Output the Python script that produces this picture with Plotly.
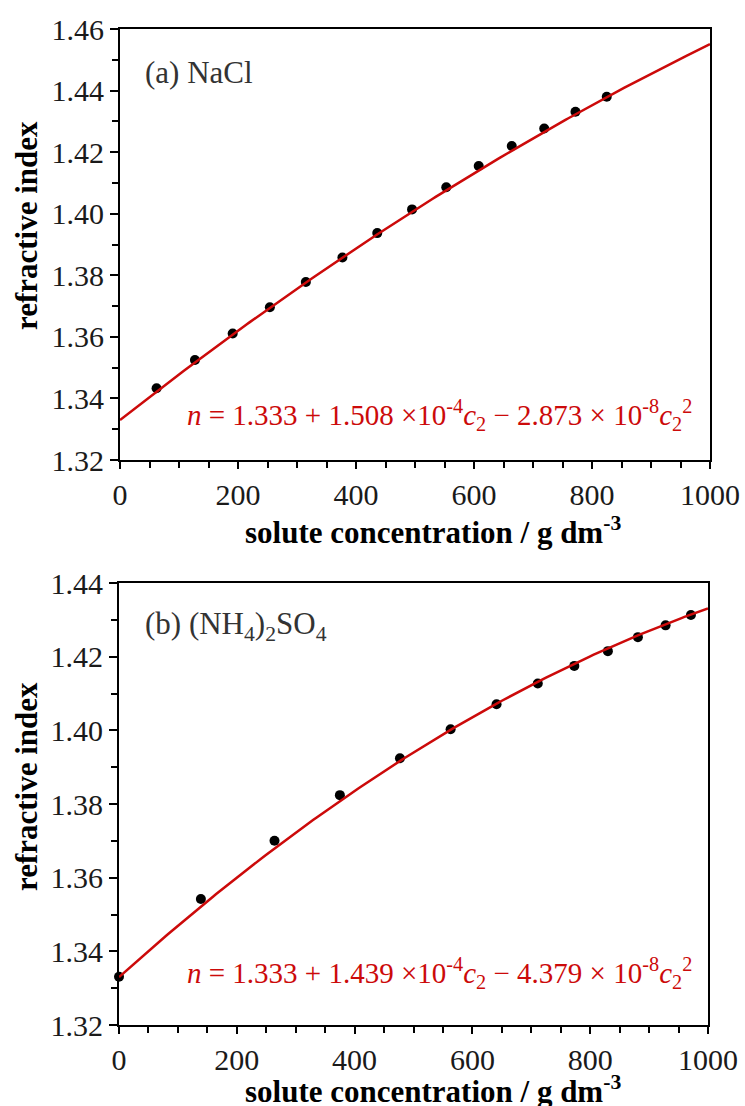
import numpy as np
import plotly.graph_objects as go

# ---- data -------------------------------------------------------------
# (a) NaCl: solute concentration (g dm^-3) and measured refractive index
nacl_c = [62, 127, 191, 254, 315, 377, 436, 495, 553, 608, 664, 719, 772, 825]
nacl_n = [1.3433, 1.3525, 1.3611, 1.3696, 1.3778, 1.3858, 1.3937, 1.4014,
          1.4086, 1.4155, 1.4220, 1.4277, 1.4331, 1.4380]
nacl_fit = [1.333, 1.508e-4, -2.873e-8]   # n = a + b*c2 + d*c2^2

# (b) (NH4)2SO4
amsul_c = [0, 139, 264, 375, 477, 563, 641, 711, 773, 830, 881, 928, 971]
amsul_n = [1.3331, 1.3542, 1.3700, 1.3824, 1.3924, 1.4003, 1.4071, 1.4127,
           1.4175, 1.4215, 1.4253, 1.4285, 1.4313]
amsul_fit = [1.333, 1.439e-4, -4.379e-8]

x_ticks = [0, 200, 400, 600, 800, 1000]
y_ticks_a = [1.32, 1.34, 1.36, 1.38, 1.40, 1.42, 1.44, 1.46]
y_ticks_b = [1.32, 1.34, 1.36, 1.38, 1.40, 1.42, 1.44]

panel_a = "(a) NaCl"
panel_b = "(b) (NH<sub>4</sub>)<sub>2</sub>SO<sub>4</sub>"
eq_a = ("<i>n</i> = 1.333 + 1.508 ×10<sup>-4</sup><i>c</i><sub>2</sub>"
        " − 2.873 × 10<sup>-8</sup><i>c</i><sub>2</sub><sup>2</sup>")
eq_b = ("<i>n</i> = 1.333 + 1.439 ×10<sup>-4</sup><i>c</i><sub>2</sub>"
        " − 4.379 × 10<sup>-8</sup><i>c</i><sub>2</sub><sup>2</sup>")
x_title = "solute concentration / g dm<sup>-3</sup>"
y_title = "refractive index"

# ---- page geometry (pixels) ------------------------------------------
W, H = 745, 1106
SERIF = "Liberation Serif"
RED = "#cc0a0a"
INK = "#1a1a1a"


def px(x):
    return x / W


def py(y):
    return 1 - y / H


def fit_curve(coef):
    c = np.linspace(0, 1000, 201)
    return c, coef[0] + coef[1] * c + coef[2] * c ** 2


fig = go.Figure()

for i, (cc, nn, coef) in enumerate([(nacl_c, nacl_n, nacl_fit),
                                    (amsul_c, amsul_n, amsul_fit)]):
    xa = "x" if i == 0 else "x2"
    ya = "y" if i == 0 else "y2"
    fc, fn = fit_curve(coef)
    fig.add_trace(go.Scatter(x=cc, y=nn, mode="markers", xaxis=xa, yaxis=ya,
                             marker=dict(color="black", size=10),
                             cliponaxis=False, showlegend=False))
    fig.add_trace(go.Scatter(x=fc, y=fn, mode="lines", xaxis=xa, yaxis=ya,
                             line=dict(color=RED, width=2.5),
                             showlegend=False))


def xaxis_style(domain, anchor):
    return dict(domain=domain, anchor=anchor, range=[0, 1000],
                tickvals=x_ticks, ticks="outside", ticklen=7, tickwidth=1.5,
                tickcolor="black",
                minor=dict(dtick=50, tick0=0, ticks="outside", ticklen=6,
                           tickwidth=1.5, tickcolor="black"),
                showline=True, linecolor="black", linewidth=2, mirror=True,
                showgrid=False, zeroline=False,
                tickfont=dict(family=SERIF, size=30, color=INK),
                automargin=False)


def yaxis_style(domain, anchor, rng, vals):
    return dict(domain=domain, anchor=anchor, range=rng, tickvals=vals,
                tickformat=".2f", ticks="outside", ticklen=8, tickwidth=1.5,
                tickcolor="black",
                minor=dict(dtick=0.01, tick0=1.32, ticks="outside", ticklen=6,
                           tickwidth=1.5, tickcolor="black"),
                showline=True, linecolor="black", linewidth=2, mirror=True,
                showgrid=False, zeroline=False,
                tickfont=dict(family=SERIF, size=30, color=INK),
                automargin=False)


fig.update_layout(
    width=W, height=H,
    margin=dict(l=0, r=0, t=0, b=0),
    paper_bgcolor="white", plot_bgcolor="white",
    xaxis=xaxis_style([px(120), px(710)], "y"),
    yaxis=yaxis_style([py(460), py(29)], "x", [1.32, 1.46], y_ticks_a),
    xaxis2=xaxis_style([px(119), px(708)], "y2"),
    yaxis2=yaxis_style([py(1025), py(583)], "x2", [1.32, 1.44], y_ticks_b),
)

ann = []
# panel labels
ann.append(dict(text=panel_a, x=px(143), y=py(73), xanchor="left",
                yanchor="middle", font=dict(family=SERIF, size=31, color="#333333")))
ann.append(dict(text=panel_b, x=px(143), y=py(626), xanchor="left",
                yanchor="middle", font=dict(family=SERIF, size=31, color="#333333")))
# fit equations
ann.append(dict(text=eq_a, x=px(185), y=py(415), xanchor="left",
                yanchor="middle", font=dict(family=SERIF, size=29, color=RED)))
ann.append(dict(text=eq_b, x=px(185), y=py(973), xanchor="left",
                yanchor="middle", font=dict(family=SERIF, size=29, color=RED)))
# axis titles
for yc in (226, 787):
    ann.append(dict(text=f"<b>{y_title}</b>", x=px(26), y=py(yc),
                    xanchor="center", yanchor="middle", textangle=-90,
                    font=dict(family=SERIF, size=31, color="black")))
for yc in (530, 1089):
    ann.append(dict(text=f"<b>{x_title}</b>", x=px(433), y=py(yc),
                    xanchor="center", yanchor="middle",
                    font=dict(family=SERIF, size=31, color="black")))

for a in ann:
    a.update(xref="paper", yref="paper", showarrow=False)
fig.update_layout(annotations=ann)

fig.write_html("out.html")
